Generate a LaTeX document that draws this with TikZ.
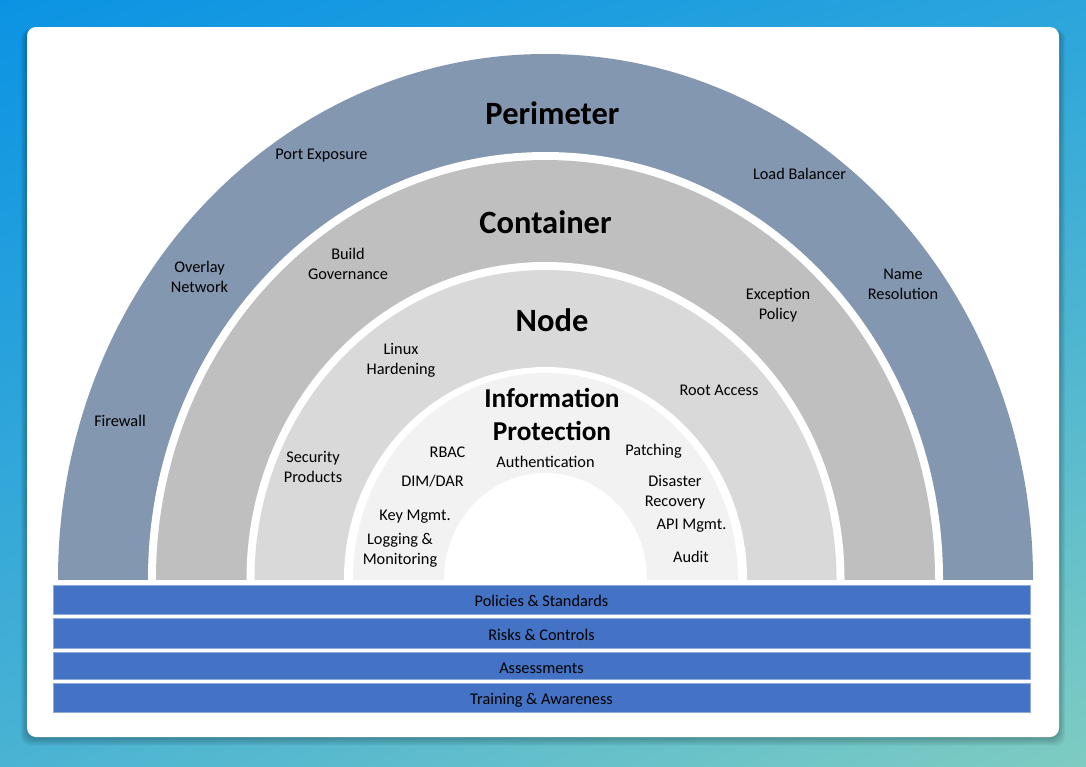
\documentclass[tikz,border=0pt]{standalone}
\usepackage{fontspec}
\setmainfont{Carlito}
\usetikzlibrary{shadings}
\definecolor{bgA}{RGB}{11,147,227}
\definecolor{bgB}{RGB}{43,165,220}
\definecolor{bgC}{RGB}{74,179,211}
\definecolor{bgD}{RGB}{126,204,194}
\definecolor{perimC}{HTML}{8497B0}
\definecolor{contC}{HTML}{BFBFBF}
\definecolor{nodeC}{HTML}{D9D9D9}
\definecolor{infoC}{HTML}{F2F2F2}
\definecolor{barC}{HTML}{4472C4}
\definecolor{barL}{HTML}{8FAADC}
\begin{document}
\begin{tikzpicture}[x=1pt,y=-1pt,
  lbl/.style={font=\fontsize{16.3}{20}\selectfont, align=center, inner sep=0pt, text=black},
  ttl/.style={font=\fontsize{32.5}{36}\selectfont\bfseries, inner sep=0pt, text=black},
  ttlsm/.style={font=\fontsize{27.3}{33}\selectfont\bfseries, align=center, inner sep=0pt, text=black},
  barbox/.style={fill=barC, draw=barL, line width=0.8pt, minimum width=977pt, inner sep=0pt},
  bartxt/.style={font=\fontsize{16.3}{20}\selectfont, inner sep=0pt, text=black}]
\useasboundingbox (0,0) rectangle (1086,766);
\shade[upper left=bgA, upper right=bgB, lower left=bgC, lower right=bgD] (0,0) rectangle (1086,766);
% card shadow
\foreach \i in {1,...,7}{
  \fill[black, opacity=0.035, rounded corners=10pt] (27-\i*0.9, 29) rectangle (1059+\i*0.9, 738+\i*1.1);
}
\fill[white, rounded corners=9pt] (27,27) rectangle (1059,737);
% rings
\begin{scope}
  \clip (27,27) rectangle (1059,579);
  \fill[perimC] (545.5,579) ellipse [x radius=487.5, y radius=525];
  \fill[white]  (545.5,579) ellipse [x radius=397.5, y radius=427];
  \fill[contC]  (545.5,579) ellipse [x radius=389.5, y radius=419];
  \fill[white]  (545.5,579) ellipse [x radius=299, y radius=317];
  \fill[nodeC]  (545.5,579) ellipse [x radius=291, y radius=309];
  \fill[white]  (545.5,579) ellipse [x radius=201.5, y radius=212];
  \fill[infoC]  (545.5,579) ellipse [x radius=192.5, y radius=206];
  \fill[white]  (545.5,579) ellipse [x radius=101.5, y radius=106];
\end{scope}
% titles
\node[ttl] (tPer) at (552.5,113) {Perimeter};
\node[ttl] (tCon) at (545.5,222) {Container};
\node[ttl] (tNod) at (552,320) {Node};
\node[ttlsm] (tInf) at (552,414.5) {Information\\Protection};
% perimeter labels
\node[lbl] (lFw) at (120,421) {Firewall};
\node[lbl] (lOv) at (199.5,277) {Overlay\\Network};
\node[lbl] (lPe) at (321.5,156) {Port Exposure};
\node[lbl] (lLb) at (799.5,174) {Load Balancer};
\node[lbl] (lNr) at (903,284) {Name\\Resolution};
% container labels
\node[lbl] (lBg) at (348,264) {Build\\Governance};
\node[lbl] (lEp) at (778,305.5) {Exception\\Policy};
% node labels
\node[lbl] (lLh) at (401,360) {Linux\\Hardening};
\node[lbl] (lSp) at (313,466.5) {Security\\Products};
\node[lbl] (lRa) at (719,390) {Root Access};
% info labels
\node[lbl] (lAu) at (545.5,462) {Authentication};
\node[lbl] (lRb) at (447.5,452) {RBAC};
\node[lbl] (lDd) at (432.5,481) {DIM/DAR};
\node[lbl] (lKm) at (415,516.5) {Key Mgmt.};
\node[lbl] (lLm) at (400,550) {Logging \&\\Monitoring};
\node[lbl] (lPa) at (653.5,451) {Patching};
\node[lbl] (lDr) at (675,492) {Disaster\\Recovery};
\node[lbl] (lAm) at (691.5,525.5) {API Mgmt.};
\node[lbl] (lAd) at (691,557) {Audit};
% bars
\node[barbox, minimum height=29pt] (b1) at (541.5,599.5) {};
\node[barbox, minimum height=30pt] (b2) at (541.5,633) {};
\node[barbox, minimum height=27pt] (b3) at (541.5,665.5) {};
\node[barbox, minimum height=29pt] (b4) at (541.5,697.5) {};
\node[bartxt, yshift=-1pt] (t1) at (b1.center) {Policies \& Standards};
\node[bartxt, yshift=-2pt] (t2) at (b2.center) {Risks \& Controls};
\node[bartxt, yshift=-3pt] (t3) at (b3.center) {Assessments};
\node[bartxt, yshift=-3pt] (t4) at (b4.center) {Training \& Awareness};
\end{tikzpicture}
\end{document}
